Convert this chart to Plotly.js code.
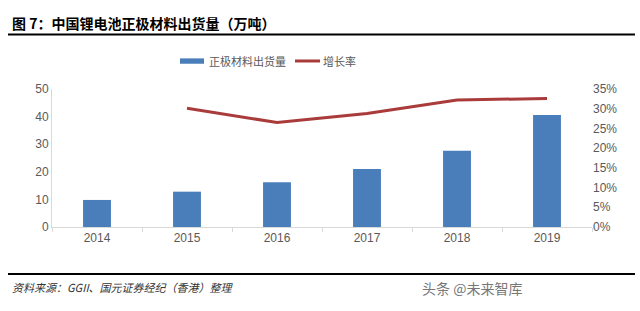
<!DOCTYPE html>
<html><head><meta charset="utf-8">
<script src="https://cdn.plot.ly/plotly-3.0.1.min.js"></script>
<style>html,body{margin:0;padding:0;background:#fff;}#chart{width:640px;height:311px;}</style>
</head><body><div id="chart"></div>
<script>
const years = ['2014','2015','2016','2017','2018','2019'];
const shipments = [9.8, 12.8, 16.2, 21.0, 27.6, 40.6];
const growth = [null, 0.301, 0.265, 0.288, 0.322, 0.326];
const seriesNames = ['正极材料出货量', '增长率'];
const leftTicks = [0,10,20,30,40,50];
const rightTicks = [0,0.05,0.10,0.15,0.20,0.25,0.30,0.35];

const cjk = '"Noto Sans CJK SC", "Noto Sans", sans-serif';
const num = '"Liberation Sans", Arial, sans-serif';
const grey = '#595959';
const barColor = '#4a7ebb';
const lineColor = '#a93b3b';

const traces = [
  {type:'bar', x:years, y:shipments, name:seriesNames[0], marker:{color:barColor}, width:0.31, yaxis:'y', showlegend:false},
  {type:'scatter', mode:'lines', x:years, y:growth, name:seriesNames[1], line:{color:lineColor, width:3}, yaxis:'y2', connectgaps:false, showlegend:false}
];

const layout = {
  width:640, height:311,
  margin:{l:52, r:48, t:89, b:84},
  paper_bgcolor:'#fff', plot_bgcolor:'#fff',
  font:{family:cjk, size:12, color:grey},
  showlegend:false,
  xaxis:{type:'category', showline:true, linecolor:'#d9d9d9', linewidth:1, ticks:'outside', tickson:'boundaries', ticklen:4, tickcolor:'#d9d9d9', showgrid:false, tickfont:{family:num, size:12, color:grey}},
  yaxis:{range:[0,50], tickvals:leftTicks, showline:true, linecolor:'#d9d9d9', linewidth:1, showgrid:false, zeroline:false, ticks:'', tickfont:{family:num, size:12, color:grey}},
  yaxis2:{overlaying:'y', side:'right', range:[0,0.35], tickvals:rightTicks, tickformat:'.0%', showline:false, showgrid:false, zeroline:false, tickfont:{family:num, size:12, color:grey}},
  shapes:[
    {type:'line', xref:'paper', yref:'paper', x0:-0.0815, x1:1.0796, y0:1.395, y1:1.395, line:{color:'#000', width:2}},
    {type:'line', xref:'paper', yref:'paper', x0:-0.0815, x1:1.0796, y0:-0.34, y1:-0.34, line:{color:'#000', width:2}},
    {type:'rect', xref:'paper', yref:'paper', x0:0.237, x1:0.2815, y0:1.183, y1:1.222, fillcolor:barColor, line:{width:0}},
    {type:'line', xref:'paper', yref:'paper', x0:0.45, x1:0.4963, y0:1.203, y1:1.203, line:{color:lineColor, width:3}}
  ],
  annotations:[
    {xref:'paper', yref:'paper', x:-0.078, y:1.48, xanchor:'left', yanchor:'middle', showarrow:false, text:'<b>图 7：中国锂电池正极材料出货量（万吨）</b>', font:{family:cjk, size:14, color:'#000'}},
    {xref:'paper', yref:'paper', x:0.287, y:1.203, xanchor:'left', yanchor:'middle', showarrow:false, text:seriesNames[0], font:{family:cjk, size:11, color:grey}},
    {xref:'paper', yref:'paper', x:0.498, y:1.203, xanchor:'left', yanchor:'middle', showarrow:false, text:seriesNames[1], font:{family:cjk, size:11, color:grey}},
    {xref:'paper', yref:'paper', x:-0.078, y:-0.435, xanchor:'left', yanchor:'middle', showarrow:false, text:'<i>资料来源：GGII、国元证券经纪（香港）整理</i>', font:{family:'"Noto Sans CJK SC", "Liberation Serif", serif', size:11, color:'#333'}},
    {xref:'paper', yref:'paper', x:0.681, y:-0.445, xanchor:'left', yanchor:'middle', showarrow:false, text:'头条 @未来智库', font:{family:cjk, size:14, color:'#777'}}
  ]
};
Plotly.newPlot('chart', traces, layout, {displayModeBar:false, staticPlot:true});
</script>
</body></html>
